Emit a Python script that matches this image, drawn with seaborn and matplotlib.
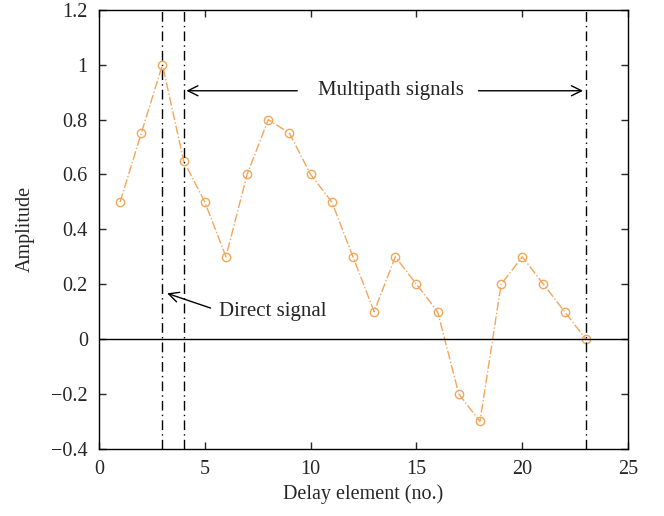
import numpy as np
import pandas as pd
import seaborn as sns
import matplotlib.pyplot as plt

delay = list(range(1, 24))
amplitude = [0.5, 0.75, 1.0, 0.65, 0.5, 0.3, 0.6, 0.8, 0.75, 0.6, 0.5, 0.3,
             0.1, 0.3, 0.2, 0.1, -0.2, -0.3, 0.2, 0.3, 0.2, 0.1, 0.0]
direct_x = 3
multipath_x = [4, 23]

df = pd.DataFrame({"delay": delay, "amplitude": amplitude})

sns.set_style("ticks")
plt.rcParams["font.family"] = ["Liberation Serif", "DejaVu Serif"]
plt.rcParams["axes.unicode_minus"] = True

fig = plt.figure(figsize=(6.64, 5.16), dpi=100)
ax = fig.add_axes([0.149, 0.130, 0.797, 0.851])

orange = "#F2A65A"
sns.lineplot(data=df, x="delay", y="amplitude", ax=ax, color=orange,
             linestyle="-.", linewidth=1.0, marker="o", markersize=6)
line = ax.lines[-1]
line.set_markerfacecolor("none")
line.set_markeredgecolor(orange)
line.set_markeredgewidth(1.0)

for xv in [direct_x] + multipath_x:
    ax.axvline(xv, color="black", linestyle=(0, (7, 3, 1, 3)), linewidth=1.0)
ax.axhline(0, color="black", linewidth=1.0)

arrow = dict(arrowstyle="->", color="black", lw=1.0, mutation_scale=18)
ax.annotate("", xy=(4, 0.905), xytext=(9.5, 0.905), arrowprops=arrow)
ax.annotate("", xy=(23, 0.905), xytext=(17.8, 0.905), arrowprops=arrow)
ax.text(13.8, 0.905, "Multipath signals", ha="center", va="center", fontsize=15)
ax.annotate("", xy=(3.1, 0.17), xytext=(5.4, 0.11), arrowprops=arrow)
ax.text(5.65, 0.10, "Direct signal", ha="left", va="center", fontsize=15)

ax.set_xlim(0, 25)
ax.set_ylim(-0.4, 1.2)
ax.set_xticks([0, 5, 10, 15, 20, 25])
ax.set_yticks([-0.4, -0.2, 0, 0.2, 0.4, 0.6, 0.8, 1, 1.2])
ax.set_yticklabels(["\u22120.4", "\u22120.2", "0", "0.2", "0.4", "0.6", "0.8", "1", "1.2"])
ax.tick_params(direction="in", top=True, right=True, labelsize=14.5, length=5, width=1, pad=8)
for s in ax.spines.values():
    s.set_linewidth(1.0)
    s.set_color("black")
ax.set_xlabel("Delay element (no.)", fontsize=14.5, labelpad=4)
ax.set_ylabel("Amplitude", fontsize=14.5, labelpad=12)

fig.savefig("out.png", dpi=100)
